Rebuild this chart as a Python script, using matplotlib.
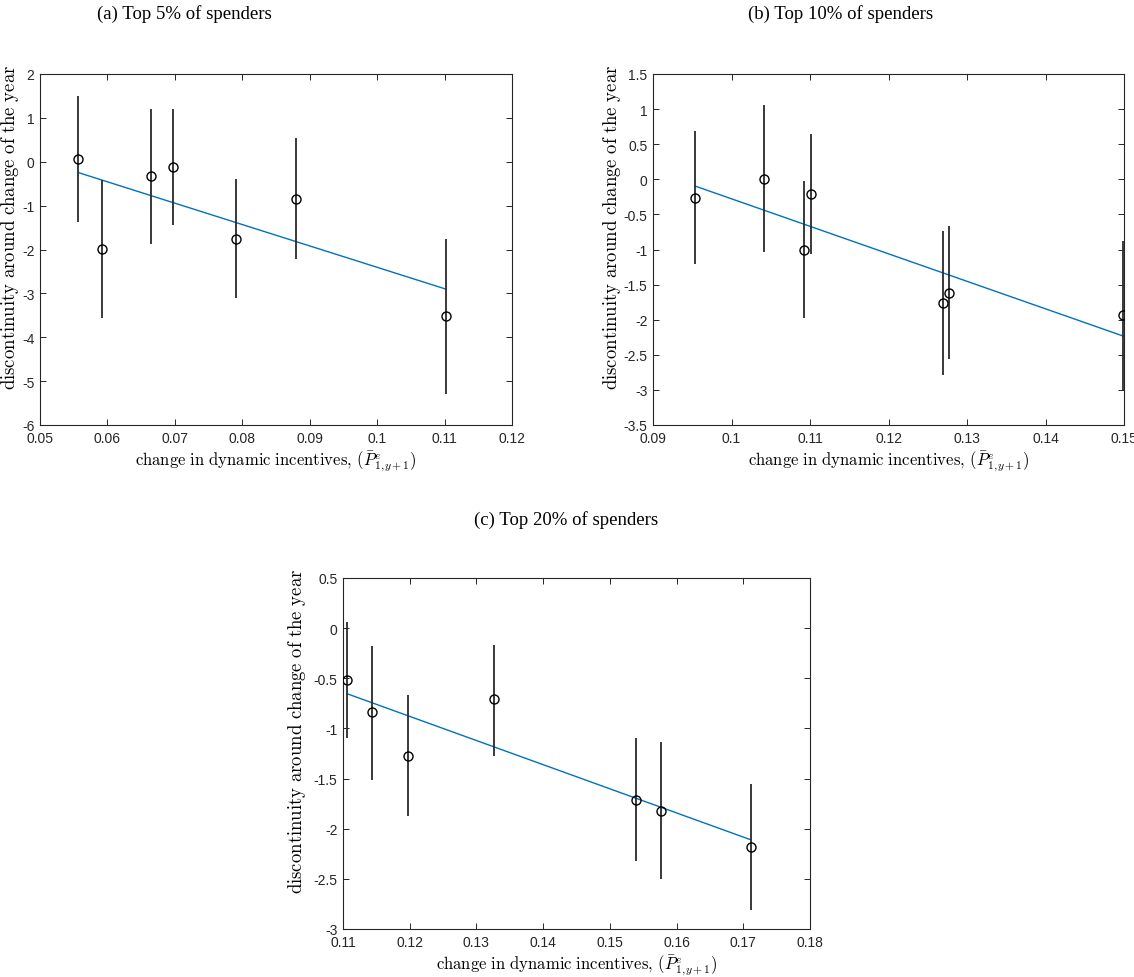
import numpy as np
import matplotlib
matplotlib.use("Agg")
import matplotlib.pyplot as plt

plt.rcParams['font.family'] = ['Liberation Sans', 'DejaVu Sans']
plt.rcParams['mathtext.fontset'] = 'cm'

# (a) Top 5% of spenders
x_a = [0.0557, 0.0592, 0.0665, 0.0697, 0.0790, 0.0879, 0.1102]
y_a = [0.07, -1.99, -0.33, -0.11, -1.75, -0.84, -3.52]
lo_a = [-1.37, -3.56, -1.88, -1.44, -3.11, -2.22, -5.30]
hi_a = [1.50, -0.42, 1.21, 1.21, -0.39, 0.53, -1.75]

# (b) Top 10% of spenders
x_b = [0.0954, 0.1041, 0.1092, 0.1101, 0.1270, 0.1277, 0.1499]
y_b = [-0.26, 0.01, -1.00, -0.21, -1.76, -1.62, -1.94]
lo_b = [-1.20, -1.04, -1.98, -1.07, -2.79, -2.56, -3.00]
hi_b = [0.69, 1.06, -0.02, 0.64, -0.73, -0.67, -0.88]

# (c) Top 20% of spenders
x_c = [0.1106, 0.1144, 0.1198, 0.1327, 0.1539, 0.1576, 0.1711]
y_c = [-0.52, -0.84, -1.27, -0.71, -1.71, -1.82, -2.18]
lo_c = [-1.10, -1.51, -1.87, -1.27, -2.32, -2.50, -2.81]
hi_c = [0.06, -0.18, -0.67, -0.17, -1.10, -1.14, -1.55]

titles = ['(a) Top 5% of spenders', '(b) Top 10% of spenders', '(c) Top 20% of spenders']
xlabel = r'$\mathrm{change\ in\ dynamic\ incentives,}\,(\bar{P}^e_{1,\!y+1})$'
ylabel = r'$\mathrm{discontinuity\ around\ change\ of\ the\ year}$'

W, H = 1134, 978
fig = plt.figure(figsize=(W / 100, H / 100), dpi=100, facecolor='white')


def px_axes(left, top, right, bottom):
    return fig.add_axes([left / W, 1 - bottom / H, (right - left) / W, (bottom - top) / H])


def panel(ax, x, y, lo, hi, xlim, ylim, xticks, yticks, ylab_x):
    x = np.array(x); y = np.array(y)
    yerr = np.vstack([y - np.array(lo), np.array(hi) - y])
    ax.errorbar(x, y, yerr=yerr, fmt='o', mfc='none', mec='black', ms=6.5, mew=1.0,
                ecolor='#2a2a2a', elinewidth=1.3, capsize=0, zorder=3)
    # least-squares fit drawn across the data range
    k, b = np.polyfit(x, y, 1)
    xf = np.array([x.min(), x.max()])
    ax.plot(xf, k * xf + b, color='#0072BD', lw=1.0, zorder=2)
    ax.set_xlim(*xlim)
    ax.set_ylim(*ylim)
    ax.set_xticks(xticks)
    ax.set_yticks(yticks)
    ax.set_xticklabels([('%g' % t) for t in xticks])
    ax.set_yticklabels([('%g' % t) for t in yticks])
    ax.tick_params(direction='in', length=4, width=0.7, top=True, right=True,
                   labelsize=10, colors='#262626', pad=4)
    for s in ax.spines.values():
        s.set_color('#262626')
        s.set_linewidth(0.8)
    ax.set_xlabel(xlabel, fontsize=12, labelpad=3)
    ax.set_ylabel(ylabel, fontsize=13.5)
    # label centre: given pixel x, a little above the axes middle
    bb = ax.get_position()
    lx = (ylab_x / W - bb.x0) / bb.width
    ly = 0.5 + 23 / (bb.height * H)
    ax.yaxis.set_label_coords(lx, ly)
    ax.yaxis.label.set_va('center')


ax1 = px_axes(40, 75, 512, 426)
panel(ax1, x_a, y_a, lo_a, hi_a, (0.05, 0.12), (-6, 2),
      np.arange(0.05, 0.1201, 0.01), np.arange(-6, 2.1, 1), 10)

ax2 = px_axes(653, 75, 1124, 426)
panel(ax2, x_b, y_b, lo_b, hi_b, (0.09, 0.15), (-3.5, 1.5),
      np.arange(0.09, 0.1501, 0.01), np.arange(-3.5, 1.6, 0.5), 612)

ax3 = px_axes(343, 579, 810, 930)
panel(ax3, x_c, y_c, lo_c, hi_c, (0.11, 0.18), (-3, 0.5),
      np.arange(0.11, 0.1801, 0.01), np.arange(-3, 0.6, 0.5), 297)

for t, (cx, cy) in zip(titles, [(184, 14), (841, 14), (566, 520)]):
    fig.text(cx / W, 1 - cy / H, t, ha='center', va='center', fontsize=13.5,
             family=['Liberation Serif', 'DejaVu Serif'])

fig.savefig('out.png', dpi=100, facecolor='white')
